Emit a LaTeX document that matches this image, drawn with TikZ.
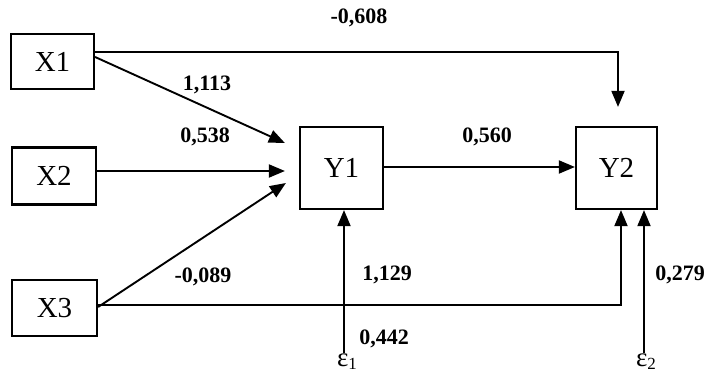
\documentclass[tikz,border=0pt]{standalone}
\usepackage{fontspec}
\setmainfont{Liberation Serif}
\usetikzlibrary{arrows.meta}

\newcommand{\errsub}[1]{\raisebox{-3pt}{\fontsize{17}{17}\selectfont #1}}

\tikzset{
  var/.style={draw, line width=2.2pt, minimum width=#1, font=\fontsize{29}{29}\selectfont},
  var/.default=83pt,
  path/.style={line width=1.9pt, -{Triangle[length=16pt,width=13pt]}},
  coef/.style={font=\fontsize{22}{22}\selectfont\bfseries},
  err/.style={font=\fontsize{27}{27}\selectfont, inner sep=1pt}
}

\begin{document}
\begin{tikzpicture}[x=1pt, y=1pt]
      \useasboundingbox (0,0) rectangle (706,386);

      % exogenous variables
      \node[var, minimum height=55pt] (X1) at (52.5,324.5) {X1};
      \node[var=84pt, minimum height=57pt] (X2) at (54,210) {X2};
      \node[var=85pt, minimum height=56pt] (X3) at (54.5,78) {X3};

      % endogenous variables
      \node[var, minimum height=82pt] (Y1) at (341.5,218) {Y1};
      \node[var=81pt, minimum height=82pt] (Y2) at (616.5,218) {Y2};

      % error terms
      \coordinate (e1) at (344,33);
      \coordinate (e2) at (644,33);
      \node[err, below] (eps1) at ([xshift=3pt]e1) {ε\errsub{1}};
      \node[err, below] (eps2) at ([xshift=2pt]e2) {ε\errsub{2}};

      % paths
      \draw[path] ([yshift=9.5pt]X1.east) -| ([xshift=1.5pt,yshift=19pt]Y2.north);
      \draw[path] ([yshift=4.5pt]X1.east) -- ([xshift=-14pt,yshift=25pt]Y1.west);
      \draw[path] ([yshift=5pt]X2.east) -- ([xshift=-14pt,yshift=-3pt]Y1.west);
      \draw[path] ([yshift=1pt]X3.east) -- ([xshift=-13pt,yshift=-15pt]Y1.west);
      \draw[path] ([yshift=3pt]X3.east) -| ([xshift=4.5pt]Y2.south);
      \draw[path] ([yshift=1pt]Y1.east) -- ([yshift=1pt]Y2.west);
      \draw[path] (e1) -- (e1 |- Y1.south);
      \draw[path] (e2) -- (e2 |- Y2.south);

      % coefficients
      \node[coef] (c1) at (359,368) {-0,608};
      \node[coef] (c2) at (207,301) {1,113};
      \node[coef] (c3) at (205,249) {0,538};
      \node[coef] (c4) at (203,109) {-0,089};
      \node[coef] (c5) at (487,249) {0,560};
      \node[coef] (c6) at (387,111) {1,129};
      \node[coef] (c7) at (384,47) {0,442};
      \node[coef] (c8) at (680,111) {0,279};

\end{tikzpicture}
\end{document}
